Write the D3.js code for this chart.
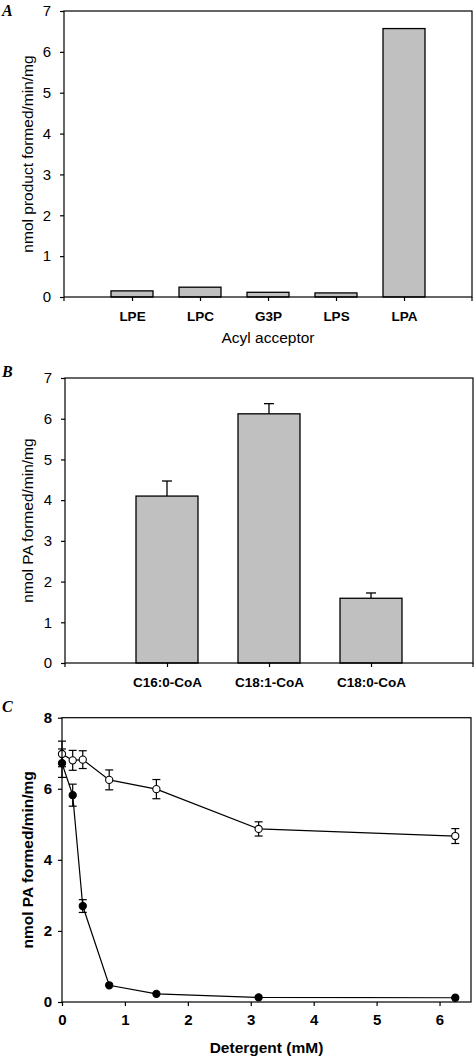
<!DOCTYPE html>
<html><head><meta charset="utf-8">
<script src="https://cdn.jsdelivr.net/npm/d3@7"></script>
<style>
body{margin:0;background:#fff;}
svg{display:block;font-family:"Liberation Sans",Arial,sans-serif;}
</style></head>
<body>
<svg id="c" width="475" height="1057"></svg>
<script>
// Panel A
const acceptors = ["LPE","LPC","G3P","LPS","LPA"];
const acceptorRates = [0.15,0.24,0.115,0.10,6.57];
const yTicksA = [0,1,2,3,4,5,6,7];
// Panel B
const acylCoAs = ["C16:0-CoA","C18:1-CoA","C18:0-CoA"];
const acylRates = [4.10,6.12,1.59];
const acylErr = [0.37,0.25,0.13];
const yTicksB = [0,1,2,3,4,5,6,7];
// Panel C
const detergent = [0,0.17,0.33,0.75,1.5,3.125,6.25];
const openRates = [6.98,6.80,6.82,6.25,5.99,4.87,4.67];
const openErr = [0.36,0.28,0.25,0.28,0.27,0.20,0.21];
const filledRates = [6.72,5.82,2.70,0.47,0.23,0.13,0.12];
const filledErr = [0.40,0.31,0.18,0,0,0,0];
const xTicksC = [0,1,2,3,4,5,6];
const yTicksC = [0,2,4,6,8];

const svg = d3.select("#c");
const grey = "#c0c0c0";

function frame(x0,x1,y0,y1){
  svg.append("rect").attr("x",x0).attr("y",y0).attr("width",x1-x0).attr("height",y1-y0)
    .attr("fill","none").attr("stroke","#000").attr("stroke-width",1.2);
}
function styleAxis(g,bold,size){
  g.select(".domain").remove();
  g.selectAll("line").attr("stroke","#000").attr("stroke-width",1.2);
  g.selectAll("text").attr("fill","#000").attr("font-size",size)
   .attr("font-weight",bold?"bold":"normal").attr("font-family",'"Liberation Sans",Arial,sans-serif');
}
function panelLetter(t,x,y){
  svg.append("text").attr("x",x).attr("y",y).text(t)
   .attr("font-family",'"Liberation Serif","Times New Roman",serif')
   .attr("font-style","italic").attr("font-weight","bold").attr("font-size",16);
}
function yLabel(t,x,y,bold){
  svg.append("text").attr("transform",`translate(${x},${y}) rotate(-90)`)
   .attr("text-anchor","middle").attr("font-size",15.5).attr("font-weight",bold?"bold":"normal").text(t);
}

// ---------- Panel A ----------
{
  const L=64,R=472,T=11,B=297;
  const x = d3.scalePoint().domain(acceptors).range([L,R]).padding(1);
  const y = d3.scaleLinear().domain([0,7]).range([B,T]);
  svg.append("g").selectAll("rect").data(acceptors).join("rect")
    .attr("x",d=>x(d)-21).attr("width",42)
    .attr("y",(d,i)=>y(acceptorRates[i])).attr("height",(d,i)=>B-y(acceptorRates[i]))
    .attr("fill",grey).attr("stroke","#000").attr("stroke-width",1.3);
  frame(L,R,T,B);
  const ga = svg.append("g").attr("transform",`translate(${L},0)`)
    .call(d3.axisLeft(y).tickValues(yTicksA).tickFormat(d3.format("d")).tickSize(4).tickPadding(9));
  styleAxis(ga,false,15);
  const gb = svg.append("g").attr("transform",`translate(0,${B})`)
    .call(d3.axisBottom(x).tickSize(4).tickPadding(10));
  styleAxis(gb,true,13.5);
  [L,R].forEach(v=>svg.append("line").attr("x1",v).attr("x2",v).attr("y1",B).attr("y2",B+4).attr("stroke","#000").attr("stroke-width",1.2));
  svg.append("text").attr("x",(L+R)/2).attr("y",343).attr("text-anchor","middle").attr("font-size",15.5).text("Acyl acceptor");
  yLabel("nmol product formed/min/mg",33,(T+B)/2,false);
  panelLetter("A",2,16);
}

// ---------- Panel B ----------
{
  const L=65,R=473,T=378,B=663;
  const x = d3.scalePoint().domain(acylCoAs).range([L,R]).padding(1);
  const y = d3.scaleLinear().domain([0,7]).range([B,T]);
  const g = svg.append("g");
  acylCoAs.forEach((c,i)=>{
    const cx=x(c), top=y(acylRates[i]), eTop=y(acylRates[i]+acylErr[i]);
    g.append("line").attr("x1",cx).attr("x2",cx).attr("y1",top).attr("y2",eTop).attr("stroke","#000").attr("stroke-width",1.3);
    g.append("line").attr("x1",cx-5).attr("x2",cx+5).attr("y1",eTop).attr("y2",eTop).attr("stroke","#000").attr("stroke-width",1.3);
  });
  g.selectAll("rect").data(acylCoAs).join("rect")
    .attr("x",d=>x(d)-31).attr("width",62)
    .attr("y",(d,i)=>y(acylRates[i])).attr("height",(d,i)=>B-y(acylRates[i]))
    .attr("fill",grey).attr("stroke","#000").attr("stroke-width",1.3);
  frame(L,R,T,B);
  const ga = svg.append("g").attr("transform",`translate(${L},0)`)
    .call(d3.axisLeft(y).tickValues(yTicksB).tickFormat(d3.format("d")).tickSize(4).tickPadding(9));
  styleAxis(ga,false,15);
  const gb = svg.append("g").attr("transform",`translate(0,${B})`)
    .call(d3.axisBottom(x).tickSize(4).tickPadding(10));
  styleAxis(gb,true,13.5);
  [L,R].forEach(v=>svg.append("line").attr("x1",v).attr("x2",v).attr("y1",B).attr("y2",B+4).attr("stroke","#000").attr("stroke-width",1.2));
  yLabel("nmol PA formed/min/mg",33,(T+B)/2,false);
  panelLetter("B",2,377);
}

// ---------- Panel C ----------
{
  const L=62,R=471,T=717.7,B=1002;
  const x = d3.scaleLinear().domain([0,6.5]).range([L,R]);
  const y = d3.scaleLinear().domain([0,8]).range([B,T]);
  frame(L,R,T,B);
  const ga = svg.append("g").attr("transform",`translate(${L},0)`)
    .call(d3.axisLeft(y).tickValues(yTicksC).tickFormat(d3.format("d")).tickSize(4).tickPadding(6));
  styleAxis(ga,true,15);
  const gb = svg.append("g").attr("transform",`translate(0,${B})`)
    .call(d3.axisBottom(x).tickValues(xTicksC).tickFormat(d3.format("d")).tickSize(4).tickPadding(8));
  styleAxis(gb,true,15);
  svg.append("text").attr("x",(L+R)/2).attr("y",1053).attr("text-anchor","middle")
    .attr("font-size",15.5).attr("font-weight","bold").text("Detergent (mM)");
  yLabel("nmol PA formed/min/mg",33,(T+B)/2,true);
  panelLetter("C",2,712);

  const line = d3.line().x(d=>x(d[0])).y(d=>y(d[1]));
  function series(vals,errs,fill){
    const pts = detergent.map((d,i)=>[d,vals[i],errs[i]]);
    const g = svg.append("g");
    g.append("path").datum(pts).attr("d",line).attr("fill","none").attr("stroke","#000").attr("stroke-width",1.2);
    pts.filter(p=>p[2]>0).forEach(p=>{
      const cx=x(p[0]), y1=y(p[1]+p[2]), y2=y(p[1]-p[2]);
      g.append("line").attr("x1",cx).attr("x2",cx).attr("y1",y1).attr("y2",y2).attr("stroke","#000").attr("stroke-width",1.2);
      [y1,y2].forEach(yy=>g.append("line").attr("x1",cx-4).attr("x2",cx+4).attr("y1",yy).attr("y2",yy).attr("stroke","#000").attr("stroke-width",1.2));
    });
    g.selectAll("circle").data(pts).join("circle")
      .attr("cx",p=>x(p[0])).attr("cy",p=>y(p[1])).attr("r",3.6)
      .attr("fill",fill).attr("stroke","#000").attr("stroke-width",1.1);
  }
  series(openRates,openErr,"#fff");
  series(filledRates,filledErr,"#000");
}
</script>
</body></html>
